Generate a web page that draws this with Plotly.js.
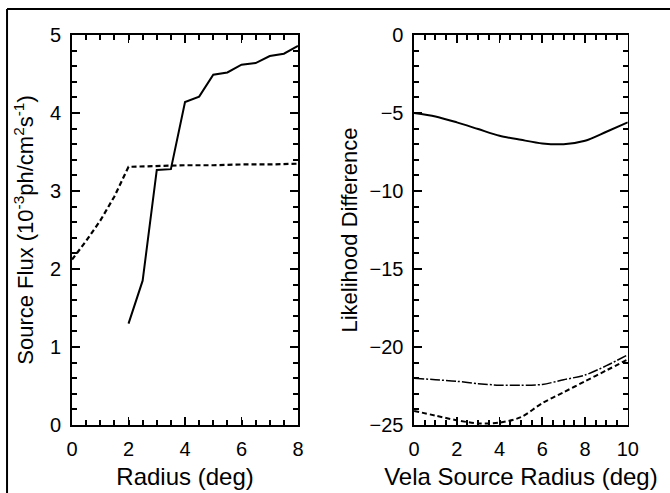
<!DOCTYPE html>
<html>
<head>
<meta charset="utf-8">
<script src="https://cdn.plot.ly/plotly-3.0.1.min.js"></script>
<style>html,body{margin:0;padding:0;background:#fff;}#chart{width:670px;height:493px;}</style>
</head>
<body>
<div id="chart"></div>
<script>
// Left panel: source flux vs radius
const fluxRadius = [2, 2.5, 3, 3.5, 4, 4.5, 5, 5.5, 6, 6.5, 7, 7.5, 8];
const fluxSolid = [1.30, 1.85, 3.27, 3.28, 4.14, 4.21, 4.49, 4.52, 4.62, 4.64, 4.73, 4.76, 4.86];
const fluxDashedRadius = [0, 0.5, 1, 1.5, 2, 3, 4, 5, 6, 7, 8];
const fluxDashed = [2.12, 2.36, 2.62, 2.93, 3.31, 3.32, 3.33, 3.33, 3.34, 3.34, 3.35];

// Right panel: likelihood difference vs Vela source radius
const velaRadius = [0, 1, 2, 3, 4, 5, 6, 7, 8, 9, 10];
const likeSolid = [-5.0, -5.22, -5.6, -6.03, -6.46, -6.72, -6.95, -7.0, -6.78, -6.2, -5.6];
const likeDashDot = [-22.0, -22.1, -22.2, -22.35, -22.45, -22.45, -22.4, -22.1, -21.8, -21.2, -20.5];
const likeDashed = [-24.1, -24.4, -24.7, -24.9, -24.85, -24.5, -23.6, -22.9, -22.2, -21.5, -20.8];

const black = '#000';
const fontFam = '"Liberation Sans", Arial, Helvetica, sans-serif';

const traces = [
  {x: fluxRadius, y: fluxSolid, xaxis: 'x', yaxis: 'y', mode: 'lines',
   line: {color: black, width: 2}},
  {x: fluxDashedRadius, y: fluxDashed, xaxis: 'x', yaxis: 'y', mode: 'lines',
   line: {color: black, width: 2.2, dash: '5px,3px'}},
  {x: velaRadius, y: likeSolid, xaxis: 'x2', yaxis: 'y2', mode: 'lines',
   line: {color: black, width: 2, shape: 'spline', smoothing: 0.8}},
  {x: velaRadius, y: likeDashDot, xaxis: 'x2', yaxis: 'y2', mode: 'lines',
   line: {color: black, width: 1.5, shape: 'spline', smoothing: 0.8, dash: '10px,2px,2px,2px'}},
  {x: velaRadius, y: likeDashed, xaxis: 'x2', yaxis: 'y2', mode: 'lines',
   line: {color: black, width: 2, shape: 'spline', smoothing: 0.8, dash: '5px,3px'}},
  // invisible copies that make the minor-tick overlay axes render
  {x: fluxRadius, y: fluxSolid, xaxis: 'x3', yaxis: 'y3', mode: 'markers',
   marker: {opacity: 0}, hoverinfo: 'skip'},
  {x: velaRadius, y: likeSolid, xaxis: 'x4', yaxis: 'y4', mode: 'markers',
   marker: {opacity: 0}, hoverinfo: 'skip'}
];

function axisBase(extra) {
  return Object.assign({
    showline: true, linecolor: black, linewidth: 2, mirror: 'allticks',
    ticks: 'inside', ticklen: 8, tickwidth: 1.8, tickcolor: black,
    showgrid: false, zeroline: false, fixedrange: true,
    ticklabelstandoff: 5,
    tickfont: {family: fontFam, size: 20, color: black},
    automargin: false
  }, extra);
}
function minorAxis(extra) {
  return Object.assign({
    showline: false, mirror: 'allticks', ticks: 'inside', ticklen: 5, tickwidth: 2,
    tickcolor: black, showticklabels: false, showgrid: false, zeroline: false,
    fixedrange: true, automargin: false, tick0: 0
  }, extra);
}

const leftX = [0.1075, 0.4448], rightX = [0.618, 0.937], panelY = [0.138, 0.929];

const layout = {
  width: 670, height: 493,
  margin: {l: 0, r: 0, t: 0, b: 0},
  paper_bgcolor: '#fff', plot_bgcolor: 'rgba(0,0,0,0)',
  showlegend: false,
  font: {family: fontFam, color: black},
  xaxis: axisBase({
    domain: leftX, range: [0, 8], dtick: 2, anchor: 'y',
    title: {text: 'Radius (deg)', font: {family: fontFam, size: 24, color: black}, standoff: 9}
  }),
  yaxis: axisBase({
    domain: panelY, range: [0, 5], dtick: 1, anchor: 'x',
    title: {text: 'Source Flux (10<sup>-3</sup>ph/cm<sup>2</sup>s<sup>-1</sup>)', font: {family: fontFam, size: 22, color: black}, standoff: 10}
  }),
  xaxis2: axisBase({
    domain: rightX, range: [0, 10], dtick: 2, anchor: 'y2', linewidth: 1.6,
    title: {text: 'Vela Source Radius (deg)', font: {family: fontFam, size: 24, color: black}, standoff: 9}
  }),
  yaxis2: axisBase({
    domain: panelY, range: [-25, 0], dtick: 5, anchor: 'x2', linewidth: 1.6,
    title: {text: 'Likelihood Difference', font: {family: fontFam, size: 22, color: black}, standoff: 6}
  }),
  // minor tick overlays
  xaxis3: minorAxis({domain: leftX, range: [0, 8], dtick: 0.5, anchor: 'y3', overlaying: 'x', side: 'bottom'}),
  yaxis3: minorAxis({domain: panelY, range: [0, 5], dtick: 0.2, anchor: 'x3', overlaying: 'y', side: 'left'}),
  xaxis4: minorAxis({domain: rightX, range: [0, 10], dtick: 0.5, anchor: 'y4', overlaying: 'x2', side: 'bottom'}),
  yaxis4: minorAxis({domain: panelY, range: [-25, 0], dtick: 1, anchor: 'x4', overlaying: 'y2', side: 'left'}),
  shapes: [
    {type: 'line', xref: 'paper', yref: 'paper', x0: 0.0105, x1: 0.0105, y0: 0, y1: 0.9817,
     line: {color: black, width: 2}},
    {type: 'line', xref: 'paper', yref: 'paper', x0: 0.0105, x1: 1, y0: 0.9817, y1: 0.9817,
     line: {color: black, width: 2}}
  ]
};

Plotly.newPlot('chart', traces, layout, {staticPlot: true, displayModeBar: false});
</script>
</body>
</html>
